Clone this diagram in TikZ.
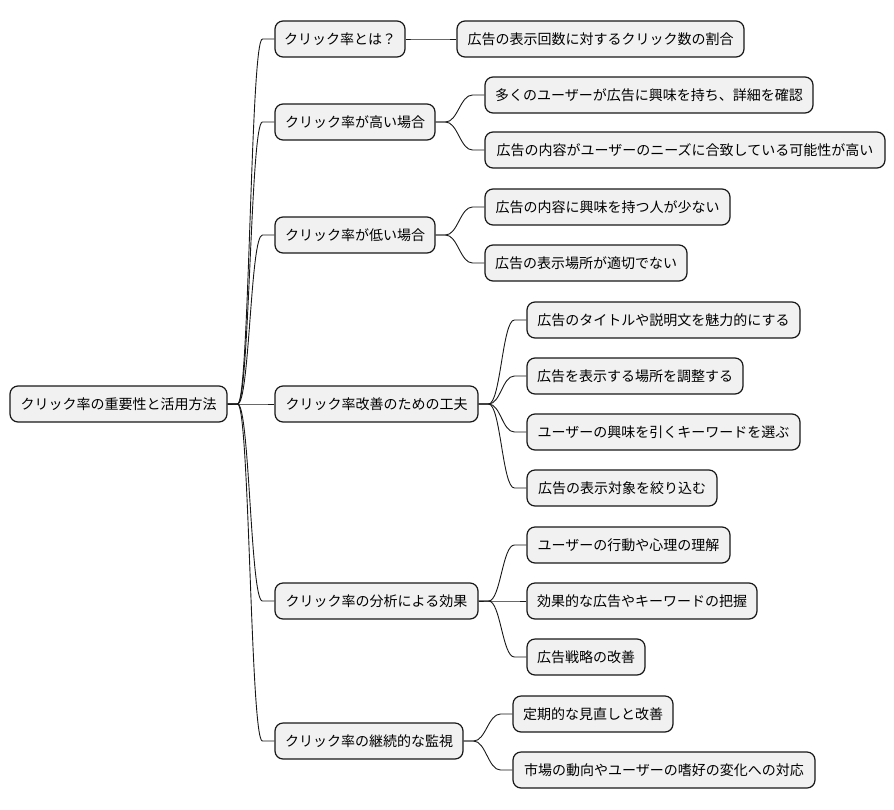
\documentclass[tikz,border=0pt]{standalone}
\usepackage{fontspec}
\usetikzlibrary{calc}
\setmainfont{Noto Sans CJK JP}
\definecolor{boxfill}{HTML}{F1F1F1}
\definecolor{boxline}{HTML}{181818}
\begin{document}
\begin{tikzpicture}[x=1pt,y=-1pt,
  box/.style={draw=boxline,fill=boxfill,line width=1.2pt,rounded corners=8pt,
    minimum height=36pt,inner xsep=0pt,inner ysep=0pt,align=center,
    font=\fontsize{14}{16}\selectfont,text=black},
  link/.style={draw=boxline,line width=0.9pt}]
\useasboundingbox (0,0) rectangle (894,809);
\newcommand{\bx}[5]{\node[box,minimum width=#3pt] (#1) at ({#2+#3/2},#4) {#5};}
\bx{root}{10}{217}{404}{クリック率の重要性と活用方法}
\bx{a}{275}{130}{39}{クリック率とは？}
\bx{b}{275}{160}{122}{クリック率が高い場合}
\bx{c}{275}{160}{235}{クリック率が低い場合}
\bx{d}{275}{203}{404}{クリック率改善のための工夫}
\bx{e}{275}{203}{601}{クリック率の分析による効果}
\bx{f}{275}{188}{741}{クリック率の継続的な監視}
\bx{a1}{457}{287}{39}{広告の表示回数に対するクリック数の割合}
\bx{b1}{485}{328}{95}{多くのユーザーが広告に興味を持ち、詳細を確認}
\bx{b2}{485}{400}{150}{広告の内容がユーザーのニーズに合致している可能性が高い}
\bx{c1}{485}{245}{207}{広告の内容に興味を持つ人が少ない}
\bx{c2}{485}{202}{263}{広告の表示場所が適切でない}
\bx{d1}{527}{273}{320}{広告のタイトルや説明文を魅力的にする}
\bx{d2}{527}{216}{376}{広告を表示する場所を調整する}
\bx{d3}{527}{273}{432}{ユーザーの興味を引くキーワードを選ぶ}
\bx{d4}{527}{190}{488}{広告の表示対象を絞り込む}
\bx{e1}{527}{203}{545}{ユーザーの行動や心理の理解}
\bx{e2}{527}{230}{601}{効果的な広告やキーワードの把握}
\bx{e3}{527}{118}{657}{広告戦略の改善}
\bx{f1}{513}{160}{714}{定期的な見直しと改善}
\bx{f2}{513}{302}{770}{市場の動向やユーザーの嗜好の変化への対応}
\newcommand{\lk}[2]{\draw[link] (#1.east) -- ++(10,0) .. controls +(12,0) and ($(#2.west)+(-24,0)$) .. ($(#2.west)+(-12,0)$) -- (#2.west);}
\foreach \p/\c in {root/a,root/b,root/c,root/d,root/e,root/f,a/a1,b/b1,b/b2,c/c1,c/c2,d/d1,d/d2,d/d3,d/d4,e/e1,e/e2,e/e3,f/f1,f/f2}{\lk{\p}{\c}}
\end{tikzpicture}
\end{document}
